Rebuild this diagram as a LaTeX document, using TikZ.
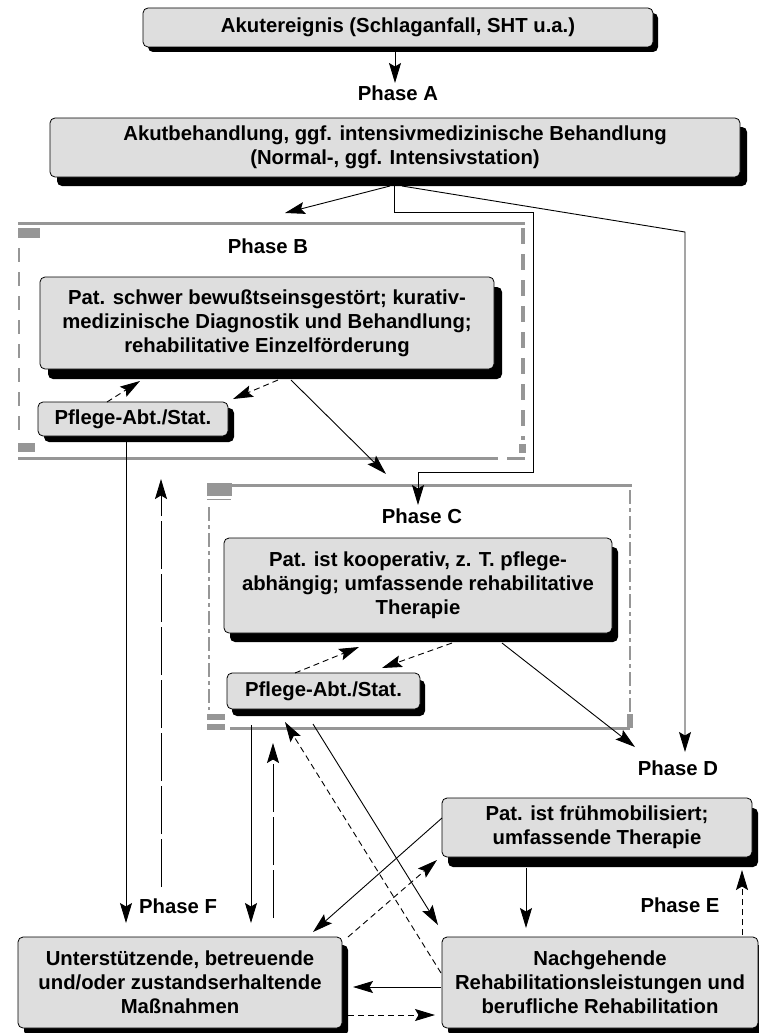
\documentclass[tikz,border=0pt]{standalone}
\usepackage{fontspec}
\setmainfont{Liberation Sans}
\usetikzlibrary{arrows.meta,shadows,calc}
\definecolor{boxfill}{RGB}{222,222,222}
\definecolor{framegray}{RGB}{150,150,150}
\begin{document}
\begin{tikzpicture}[x=1pt,y=-1pt,
  font=\bfseries\fontsize{20.3}{24}\selectfont,
  box/.style={draw=black, line width=0.8pt, fill=boxfill, rounded corners=5pt,
    inner sep=0pt, outer sep=0pt, align=center},
  shd/.style 2 args={drop shadow={shadow xshift=#1, shadow yshift=#2, opacity=1, fill=black}},
  lab/.style={inner sep=0pt, outer sep=0pt},
  frame/.style={draw=none, inner sep=0pt, outer sep=0pt},
  arr/.style={-{Stealth[length=20pt,width=12pt,inset=3.5pt]}, line width=0.9pt},
  dsh/.style={dash pattern=on 6pt off 4pt},
  ldsh/.style={dash pattern=on 48pt off 5pt},
  fline/.style={draw=framegray, line width=3pt},
  fdash/.style={draw=framegray, line width=2pt, dash pattern=on 14pt off 10pt},
  fdashw/.style={draw=framegray, line width=3.5pt, dash pattern=on 16pt off 10pt},
  fdashdot/.style={draw=framegray, line width=2pt, dash pattern=on 14pt off 4pt on 4pt off 4pt},
  fsq/.style={fill=framegray}
]
\useasboundingbox (0,0) rectangle (759,1033);
\fill[white] (0,0) rectangle (759,1033);

% ---------- frames ----------
\node[frame, minimum width=507pt, minimum height=235pt] (frB) at (271.5,340.5) {};
\node[frame, minimum width=425pt, minimum height=243pt] (frC) at (419.5,606.5) {};

% Phase B frame
\draw[fline] (18,223) -- (525,223);
\fill[fsq] (18,228) rectangle (40,238);
\draw[fdash] (18.5,248) -- (18.5,440);
\fill[fsq] (18,443) rectangle (35,452);
\draw[fline] (18,458) -- (498,458);
\draw[fline] (507,458) -- (525,458);
\draw[fdashw] (523,228) -- (523,440);
\fill[fsq] (519,444) rectangle (526,453);

% Phase C frame
\draw[fline] (207,485) -- (632,485);
\fill[fsq] (207,483) rectangle (232,496);
\draw[draw=framegray, line width=1.5pt] (207,499.5) -- (231,499.5);
\draw[fdashdot] (209,507) -- (209,710);
\draw[fdashdot, line width=2.5pt] (630,490) -- (630,712);
\fill[fsq] (207,714) rectangle (225,720);
\fill[fsq] (207,724) rectangle (225,730);
\draw[fline] (230,728) -- (630,728);
\fill[fsq] (627,714) rectangle (633,728);

% ---------- boxes ----------
\node[box, shd={5pt}{-5pt}, minimum width=510pt, minimum height=39pt] (top) at (398,27.5)
  {Akutereignis (Schlaganfall, SHT u.a.)};
\node[box, shd={7pt}{-9pt}, minimum width=690pt, minimum height=59pt] (acute) at (395,147.5)
  {Akutbehandlung, ggf. intensivmedizinische Behandlung\\(Normal-, ggf. Intensivstation)};
\node[box, shd={8pt}{-10pt}, minimum width=454pt, minimum height=92pt] (B1) at (267,323)
  {Pat. schwer bewußtseinsgestört; kurativ-\\medizinische Diagnostik und Behandlung;\\rehabilitative Einzelförderung};
\node[box, shd={6pt}{-6pt}, minimum width=190pt, minimum height=34pt] (PB) at (133,419)
  {Pflege-Abt./Stat.};
\node[box, shd={6pt}{-9pt}, minimum width=388pt, minimum height=95pt] (C1) at (418,585.5)
  {Pat. ist kooperativ, z. T. pflege-\\abhängig; umfassende rehabilitative\\Therapie};
\node[box, shd={5pt}{-7pt}, minimum width=193pt, minimum height=36pt] (PC) at (323.5,691)
  {Pflege-Abt./Stat.};
\node[box, shd={6pt}{-10pt}, minimum width=310pt, minimum height=59pt] (D) at (597,827.5)
  {Pat. ist frühmobilisiert;\\umfassende Therapie};
\node[box, shd={6pt}{-8pt}, minimum width=316pt, minimum height=91pt] (E) at (600,982.5)
  {Nachgehende\\Rehabilitationsleistungen und\\berufliche Rehabilitation};
\node[box, shd={6pt}{-8pt}, minimum width=324pt, minimum height=91pt] (F) at (180,982.5)
  {Unterstützende, betreuende\\und/oder zustandserhaltende\\Maßnahmen};

% ---------- phase labels ----------
\node[lab] (phA) at (398,93) {Phase A};
\node[lab] (phB) at (268,246) {Phase B};
\node[lab] (phC) at (422,516) {Phase C};
\node[lab] (phD) at (678,768) {Phase D};
\node[lab] (phE) at (680,905) {Phase E};
\node[lab] (phF) at (178,906) {Phase F};

% ---------- connectors ----------
\draw[arr] ($(top.south)+(-3,5)$) -- ($(phA)+(-3,-10)$);
\draw[arr] ($(acute.south)+(-5,9)$) -- ($(frB.north)+(13.5,-10)$);
\draw[arr] ($(acute.south)+(-1,9)$) -- ++(0,26) -- ++(139,0) -- ++(0,260) -- ++(-115,0)
  -- ($(frC.north)+(-1.5,20)$);
\draw[arr] ($(acute.south)+(7,9)$) -- ++(283,46) -- ($(phD)+(7,-16)$);

% Phase B internal
\draw[arr,dsh] ($(B1.south)+(11,11)$) -- ($(PB.north east)+(5,-3)$);
\draw[arr,dsh] ($(PB.north)+(-26,0)$) -- ($(B1.south)+(-127,12)$);
\draw[arr] ($(B1.south)+(24,11)$) -- ($(frC.north west)+(179,-11)$);

% Phase B <-> F
\draw[arr] ($(PB.south)+(-7,6)$) -- ($(F.north)+(-54,-14)$);
\draw[arr,ldsh] ($(F.north)+(-19,-50)$) -- ($(PB.south)+(28,43)$);

% Phase C internal
\draw[arr,dsh] ($(C1.south)+(34,10)$) -- ($(PC.north)+(58.5,-5)$);
\draw[arr,dsh] ($(PC.north)+(-28.5,0)$) -- ($(C1.south)+(-59,14)$);
\draw[arr] ($(C1.south)+(84,10)$) -- ($(phD)+(-43,-21)$);

% Phase C <-> F
\draw[arr] ($(PC.south)+(-72.5,16)$) -- ($(F.north)+(71,-14)$);
\draw[arr,ldsh] ($(F.north)+(93,-19)$) -- ($(PC.south)+(-50.5,34)$);

% Phase C <-> E
\draw[arr,dsh] ($(E.west)+(-1,-9.5)$) -- ($(PC.south)+(-38.5,13)$);
\draw[arr] ($(PC.south)+(-10.5,15)$) -- ($(E.north west)+(-4,-12)$);

% D <-> F
\draw[arr] ($(D.west)+(0,-9.5)$) -- ($(F.north east)+(-29,-5)$);
\draw[arr,dsh] ($(F.north east)+(6,0)$) -- ($(D.south west)+(-5,3)$);

% D <-> E
\draw[arr] ($(D.south)+(-71,11)$) -- ($(E.north)+(-74,-9)$);
\draw[arr,dsh] ($(E.north)+(142,-2)$) -- ($(D.south)+(145,13)$);

% E <-> F
\draw[arr] ($(E.west)+(-1,4.5)$) -- ($(F.east)+(11,4.5)$);
\draw[arr,dsh] ($(F.east)+(6,32.5)$) -- ($(E.west)+(-7,32.5)$);
\end{tikzpicture}
\end{document}
